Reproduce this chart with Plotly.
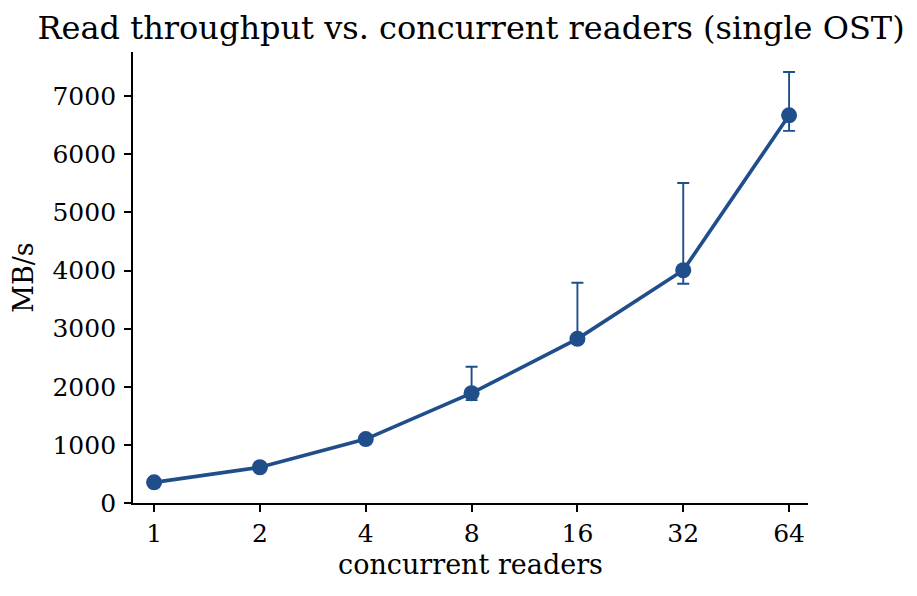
import plotly.graph_objects as go

readers = [1, 2, 4, 8, 16, 32, 64]
tick_labels = ["1", "2", "4", "8", "16", "32", "64"]
throughput = [355, 615, 1100, 1890, 2825, 4005, 6670]
err_plus = [20, 30, 40, 455, 965, 1500, 745]
err_minus = [20, 30, 40, 120, 50, 233, 267]

color = "#1f4e8a"
font = "DejaVu Serif"

fig = go.Figure()
fig.add_trace(go.Scatter(
    x=readers, y=throughput, mode="lines+markers",
    line=dict(color=color, width=3.6),
    marker=dict(color=color, size=16),
    error_y=dict(type="data", symmetric=False, array=err_plus, arrayminus=err_minus,
                 color=color, thickness=1.9, width=6),
    showlegend=False,
))

fig.update_layout(
    width=917, height=596,
    margin=dict(l=125, r=117, t=44, b=101),
    paper_bgcolor="white", plot_bgcolor="white",
    font=dict(family=font, color="black", size=25),
    title=dict(text="Read throughput vs. concurrent readers (single OST)",
               x=0.505, xanchor="center", y=0.966, yanchor="middle",
               font=dict(family=font, size=32, color="black")),
)
fig.update_xaxes(
    type="log", range=[-0.06, 1.86],
    tickvals=readers, ticktext=tick_labels,
    showline=True, linecolor="black", linewidth=1.8,
    ticks="outside", ticklen=7, tickwidth=1.8, tickcolor="black",
    showgrid=False, zeroline=False,
    title=dict(text="concurrent readers", font=dict(family=font, size=27), standoff=8),
    tickfont=dict(family=font, size=25),
)
fig.update_yaxes(
    range=[0, 7760],
    tickvals=[0, 1000, 2000, 3000, 4000, 5000, 6000, 7000],
    showline=True, linecolor="black", linewidth=1.8,
    ticks="outside", ticklen=7, tickwidth=1.8, tickcolor="black",
    showgrid=False, zeroline=False,
    ticklabelstandoff=3,
    title=dict(text="MB/s", font=dict(family=font, size=27), standoff=12),
    tickfont=dict(family=font, size=25),
)

fig.write_html("out.html")
